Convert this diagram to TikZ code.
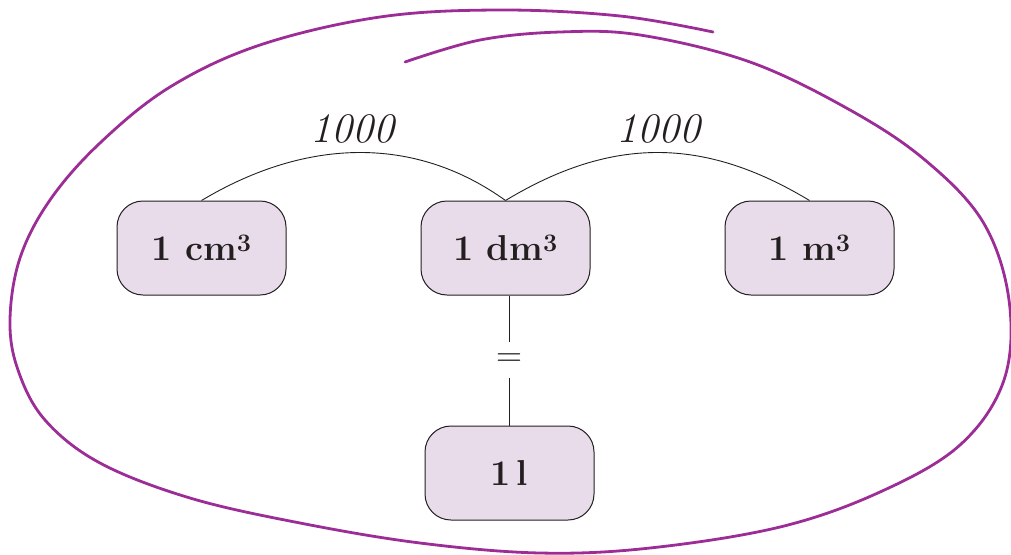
\documentclass[tikz,border=0pt]{standalone}
\definecolor{boxfill}{HTML}{E8DCEA}
\definecolor{loopcol}{HTML}{9C2D96}
\definecolor{ink}{HTML}{231F20}
\tikzset{
  unitbox/.style={draw=ink, line width=1pt, fill=boxfill, rounded corners=26pt,
    minimum width=169pt, minimum height=94pt, inner sep=0pt,
    font=\fontsize{36}{42}\selectfont\bfseries, text=ink},
  conn/.style={draw=ink, line width=0.9pt},
  numlabel/.style={font=\fontsize{42}{48}\selectfont\itshape, text=ink, inner sep=0pt},
  eqlabel/.style={font=\fontsize{36}{42}\selectfont, text=ink, inner sep=0pt, minimum height=35pt},
  loopline/.style={draw=loopcol, line width=2.8pt, line cap=round, line join=round}
}
\begin{document}
\begin{tikzpicture}[x=1pt, y=-1pt]
\useasboundingbox (0,0) rectangle (1011,554);
% enclosing hand-drawn loop
\draw[loopline] plot[smooth, tension=0.6] coordinates {
  (405,62) (480,40) (560,32) (640,35) (750,62) (850,110) (925,160) (983,222)
  (1009,300) (1004,380) (960,445) (880,492) (780,527) (650,548) (540,553)
  (420,543) (300,523) (190,498) (100,463) (45,420) (18,370) (10,320) (20,258)
  (50,200) (100,143) (170,87) (260,45) (380,17) (500,10) (620,16) (713,32) };
% nodes
\node[unitbox] (cm) at (201.5,248) {1 cm\textsuperscript{3}};
\node[unitbox] (dm) at (505.5,248) {1 dm\textsuperscript{3}};
\node[unitbox] (m)  at (809.5,248) {1 m\textsuperscript{3}};
\node[unitbox] (l)  at (509.5,473) {1\,l};
\node[numlabel] (k1) at (352,129) {1000};
\node[numlabel] (k2) at (658,129) {1000};
\node[eqlabel] (eq) at (509.5,360) {=};
% connectors
\draw[conn] (cm.north) .. controls +(107,-64) and +(-89,-64) .. (dm.north);
\draw[conn] (dm.north) .. controls +(106,-64) and +(-106,-64) .. (m.north);
\draw[conn] (dm.south -| eq.north) -- (eq.north);
\draw[conn] (eq.south) -- (l.north -| eq.south);
\end{tikzpicture}
\end{document}
